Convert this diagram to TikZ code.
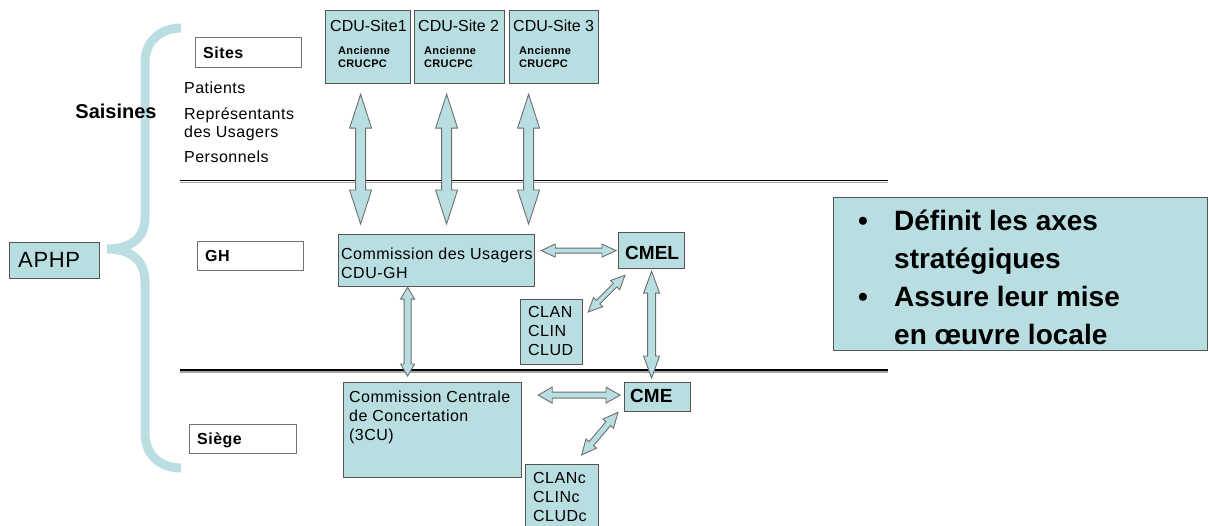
\documentclass[tikz,border=0pt]{standalone}
\usepackage{fontspec}
\setmainfont{Liberation Sans}
\newfontfamily\spaced[LetterSpace=3]{Liberation Sans}
\usetikzlibrary{calc}
\definecolor{boxblue}{HTML}{B9DEE2}
\definecolor{boxline}{HTML}{555555}
\definecolor{bracecol}{HTML}{BADEE2}
% #1 options, #2 from, #3 to, #4 shaft half width, #5 head half width, #6 head length
\newcommand\blockarrow[6][]{%
  \path[barrow,#1] let \p1=#2, \p2=#3,
    \n1={atan2(\y2-\y1,\x2-\x1)}, \n2={veclen(\x2-\x1,\y2-\y1)} in
    [shift={(\p1)}, rotate=\n1]
    (0pt,0pt) -- (#6pt,#5pt) -- (#6pt,#4pt) -- (\n2-#6pt,#4pt) -- (\n2-#6pt,#5pt)
    -- (\n2,0pt) -- (\n2-#6pt,-#5pt) -- (\n2-#6pt,-#4pt) -- (#6pt,-#4pt) -- (#6pt,-#5pt) -- cycle;}
\newcommand\fsz[2]{\fontsize{#1pt}{#2pt}\selectfont}
\begin{document}
\begin{tikzpicture}[x=1pt,y=-1pt,
  box/.style={draw=boxline, line width=1.2pt, fill=boxblue, inner sep=0pt, anchor=north west},
  wbox/.style={draw=gray!90!black, line width=1.2pt, fill=white, inner sep=0pt, anchor=north west},
  barrow/.style={draw=boxline!85, fill=boxblue, line width=0.9pt, line join=miter},
  txt/.style={inner sep=0pt, anchor=base west},
  lbl/.style={txt, font=\spaced\fsz{16}{19}},
  blbl/.style={txt, font=\spaced\bfseries\fsz{16}{19}},
  sml/.style={txt, font=\spaced\bfseries\fsz{11}{13}},
  sepline/.style={line width=1.8pt, black}]
\useasboundingbox (0,0) rectangle (1209,526);
\clip (0,0) rectangle (1209,526);

% brace
\draw[bracecol, line width=9pt, line cap=butt]
  (181,28) .. controls (160,28) and (145,42) .. (145,62) -- (145,218)
  .. controls (145,240) and (128,249) .. (107,249)
  .. controls (128,249) and (145,258) .. (145,282) -- (145,433)
  .. controls (145,455) and (160,468) .. (181,468);

% separator lines
\draw[gray!70, line width=1.6pt] (180,182.5) -- (888,182.5);
\draw[sepline] (180,180.5) -- (888,180.5);
\draw[gray!70, line width=1.6pt] (180,372) -- (888,372);
\draw[sepline] (180,370) -- (888,370);

% left labels
\node[box, minimum width=90pt, minimum height=36pt] (aphp) at (9,242) {};
\node[txt, font=\spaced\fsz{22}{26}] at (18,268) {APHP};
\node[txt, anchor=base, font=\bfseries\fsz{20}{24}] at (116,119) {Saisines};
\node[lbl] at (184,94) {Patients};
\node[lbl] at (184,120) {Représentants};
\node[lbl] at (184,138) {des Usagers};
\node[lbl] at (184,163) {Personnels};

\node[wbox, minimum width=106pt, minimum height=30pt] (sites) at (195,37) {};
\node[blbl] at (203,59) {Sites};
\node[wbox, minimum width=106pt, minimum height=29pt] (gh) at (197,241) {};
\node[blbl] at (205,262) {GH};
\node[wbox, minimum width=107pt, minimum height=29pt] (siege) at (189,424) {};
\node[blbl] at (197,444) {Siège};

% CDU site boxes
\node[box, minimum width=85pt, minimum height=73pt] (s1) at (325,10) {};
\node[box, minimum width=90pt, minimum height=73pt] (s2) at (414,10) {};
\node[box, minimum width=89pt, minimum height=73pt] (s3) at (509,10) {};
\node[txt, font=\fsz{16}{19}] at (330,32) {CDU-Site1};
\node[txt, font=\fsz{16}{19}] at (418,32) {CDU-Site 2};
\node[txt, font=\fsz{16}{19}] at (513,32) {CDU-Site 3};
\foreach \xx in {338,424,519}{
  \node[sml] at (\xx,55) {Ancienne};
  \node[sml] at (\xx,68) {CRUCPC};
}

% GH level
\node[box, minimum width=196pt, minimum height=52pt] (cdu) at (338,234) {};
\node[lbl] at (341,260) {Commission des Usagers};
\node[lbl] at (341,279) {CDU-GH};
\node[box, minimum width=66pt, minimum height=36pt] (cmel) at (618,232) {};
\node[txt, font=\bfseries\fsz{19}{23}] at (625,260) {CMEL};
\node[box, minimum width=62pt, minimum height=65pt] (clan) at (520,299) {};
\node[lbl] at (528,318) {CLAN};
\node[lbl] at (528,337) {CLIN};
\node[lbl] at (528,355) {CLUD};

% Siege level
\node[box, minimum width=178pt, minimum height=95pt] (ccc) at (343,382) {};
\node[lbl] at (349,402) {Commission Centrale};
\node[lbl] at (349,421) {de Concertation};
\node[lbl] at (349,440) {(3CU)};
\node[box, minimum width=66pt, minimum height=29pt] (cme) at (624,382) {};
\node[txt, font=\bfseries\fsz{19}{23}] at (630,402) {CME};
\node[box, minimum width=73pt, minimum height=80pt] (clanc) at (525,464) {};
\node[lbl] at (533,483) {CLANc};
\node[lbl] at (533,502) {CLINc};
\node[lbl] at (533,521) {CLUDc};

% right box
\node[box, minimum width=374pt, minimum height=153pt] (axes) at (833,197) {};
\foreach \yy in {231,306}{\node[txt, font=\bfseries\fsz{28}{34}] at (858,\yy) {•};}
\node[txt, font=\bfseries\fsz{28}{34}] at (894,231) {Définit les axes};
\node[txt, font=\bfseries\fsz{28}{34}] at (894,269) {stratégiques};
\node[txt, font=\bfseries\fsz{28}{34}] at (894,306) {Assure leur mise};
\node[txt, font=\bfseries\fsz{28}{34}] at (894,344) {en œuvre locale};

% arrows
\blockarrow{($(s1.south)+(-7.5,10)$)}{($(s1.south |- cdu.north)+(-7.5,-10)$)}{5}{11}{34}
\blockarrow{($(s2.south)+(-13,10)$)}{($(s2.south |- cdu.north)+(-13,-10)$)}{5}{11}{34}
\blockarrow{($(s3.south)+(-25.5,10)$)}{($(s3.south |- cdu.north)+(-25.5,-10)$)}{5}{11}{34}
\blockarrow{($(cdu.south)+(-29,0)$)}{($(cdu.south |- ccc.north)+(-29,-6)$)}{3.5}{7}{12}
\blockarrow{($(cmel.south)+(0,2)$)}{($(cmel.south |- cme.north)+(0,-4)$)}{4}{8}{22}
\blockarrow{($(cdu.east |- cmel.west)+(6,0)$)}{($(cmel.west)+(-2,0)$)}{2.5}{6.5}{14}
\blockarrow{($(ccc.east |- cme.west)+(16,-2)$)}{($(cme.west)+(-4,-2)$)}{3}{8}{14}
\blockarrow{($(clan.north east)+(5,13)$)}{($(cmel.south west)+(7,6)$)}{2.5}{6.5}{14}
\blockarrow{($(clanc.north)+(19.5,-9)$)}{($(cme.south west)+(-6,0)$)}{3}{7}{15}
\end{tikzpicture}
\end{document}
